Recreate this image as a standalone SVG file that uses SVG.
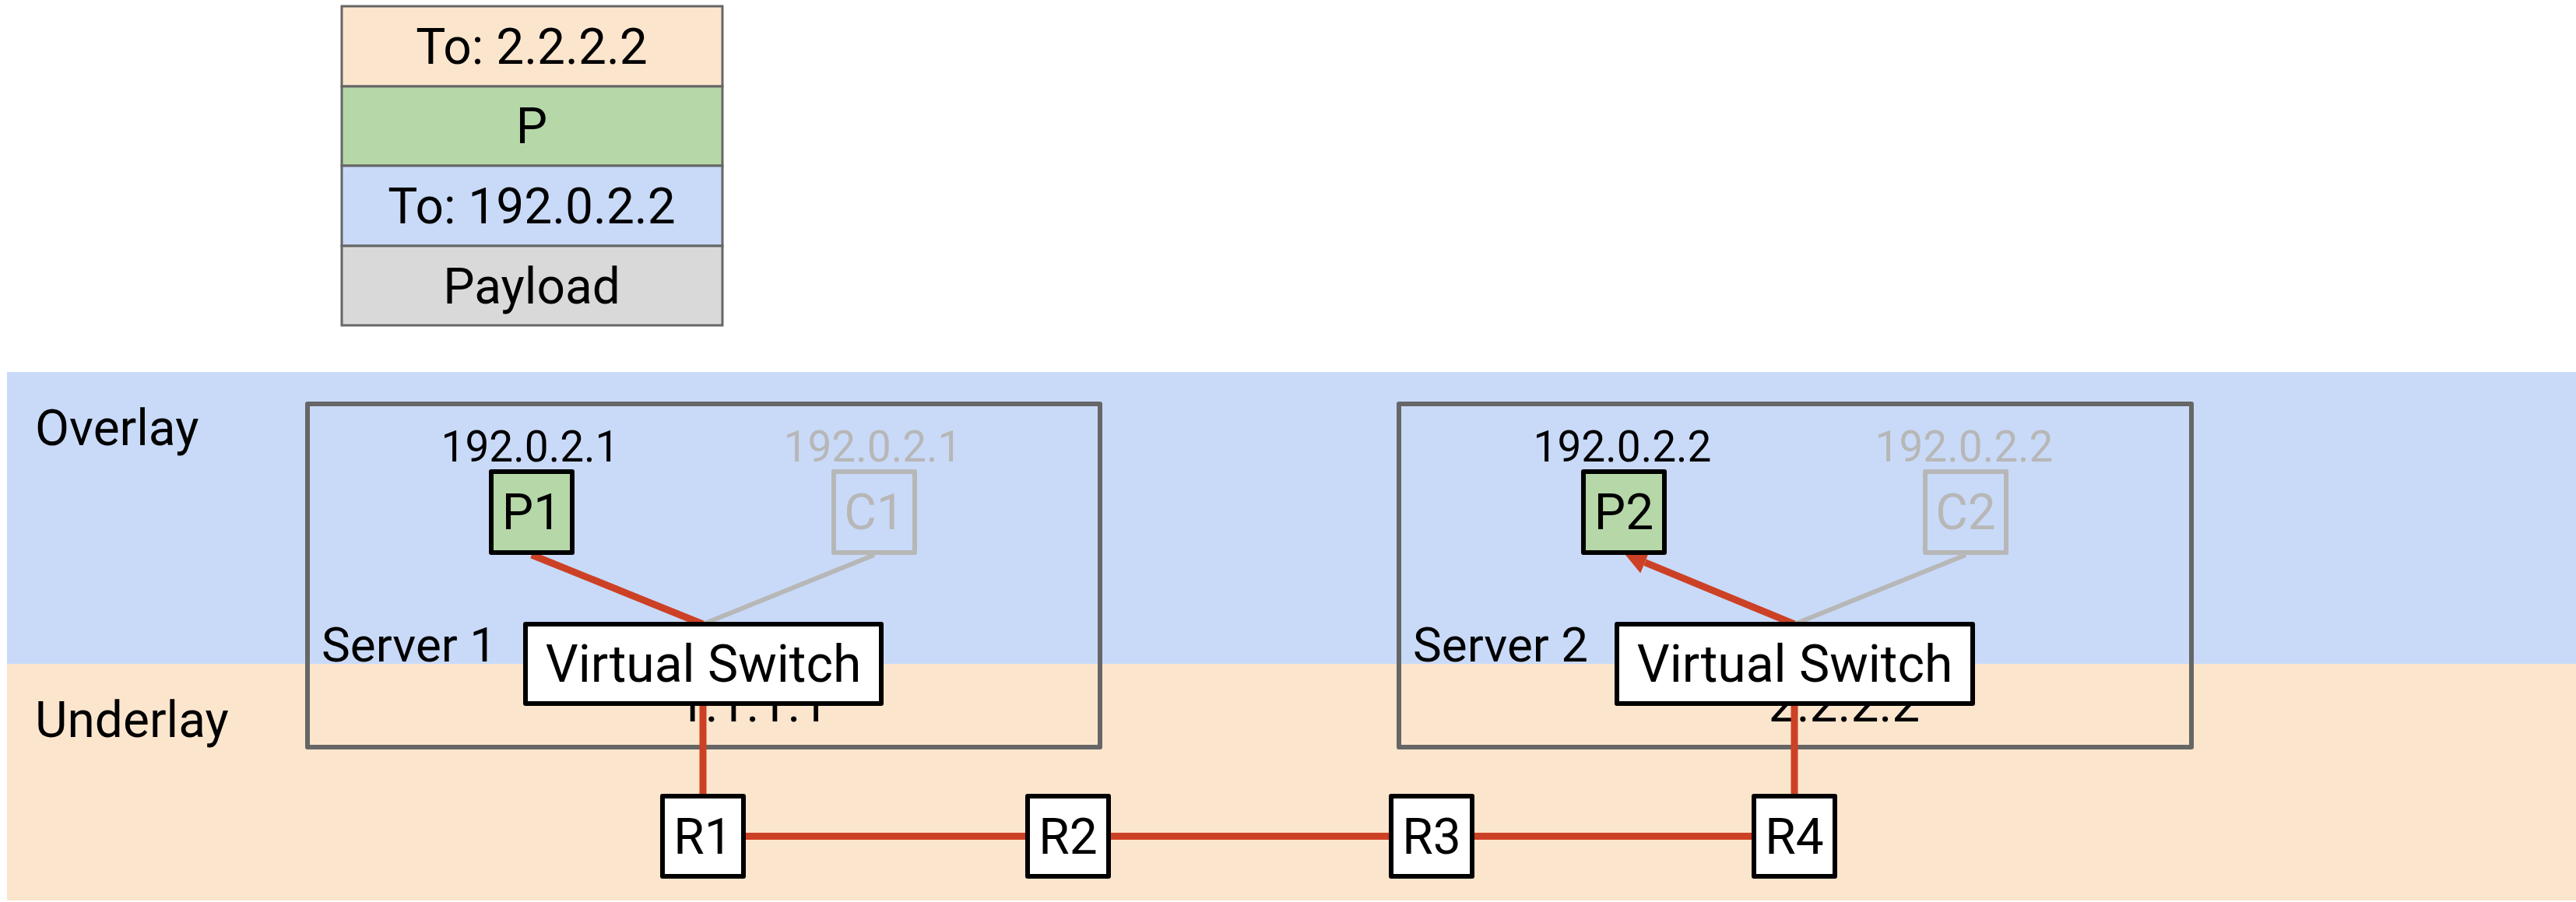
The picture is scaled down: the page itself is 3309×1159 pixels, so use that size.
<svg xmlns="http://www.w3.org/2000/svg" width="3309" height="1159" viewBox="0 0 3309 1159">
<style>
text{font-family:Roboto,"Liberation Sans",sans-serif;fill:#000}
.t64{font-size:64px}
.t66{font-size:66px}
.t62{font-size:62px}
.ip{font-size:55px;text-anchor:middle}
.mid{text-anchor:middle}
.gray{fill:#b7b7b7}
.pkt{stroke:#666;stroke-width:3}
.srv{fill:none;stroke:#666;stroke-width:6;stroke-linejoin:round}
.box{stroke:#000;stroke-width:6;stroke-linejoin:round}
.gbox{fill:none;stroke:#b7b7b7;stroke-width:6;stroke-linejoin:round}
.red{stroke:#cc4125;stroke-width:9;fill:none}
.grl{stroke:#b7b7b7;stroke-width:6;fill:none}
</style>
<defs>
<marker id="arr" markerUnits="userSpaceOnUse" markerWidth="30" markerHeight="30" refX="0" refY="15" orient="auto">
<path d="M0,0 L28,15 L0,30 z" fill="#cc4125"/>
</marker>
</defs>
<rect width="3309" height="1159" fill="#fff"/>
<g id="bands">
<rect x="9" y="478" width="3300" height="375" fill="#c9daf8"/>
<rect x="9" y="853" width="3300" height="304" fill="#fce5cd"/>
<text class="t64" x="45" y="572">Overlay</text>
<text class="t64" x="45" y="947">Underlay</text>
</g>
<g id="packet">
<rect class="pkt" x="439" y="8" width="489" height="103" fill="#fce5cd"/>
<rect class="pkt" x="439" y="111" width="489" height="102" fill="#b6d7a8"/>
<rect class="pkt" x="439" y="213" width="489" height="103" fill="#c9daf8"/>
<rect class="pkt" x="439" y="316" width="489" height="102" fill="#d9d9d9"/>
<text class="t64 mid" x="683" y="82">To: 2.2.2.2</text>
<text class="t64 mid" x="683" y="184">P</text>
<text class="t64 mid" x="683" y="287">To: 192.0.2.2</text>
<text class="t64 mid" x="683" y="390">Payload</text>
</g>
<g id="server1">
<rect class="srv" x="395" y="519" width="1018" height="441"/>
<text class="t62" x="413" y="850">Server 1</text>
<text class="t64 mid" x="967" y="927">1.1.1.1</text>
</g>
<g id="server2">
<rect class="srv" x="1797" y="519" width="1018" height="441"/>
<text class="t62" x="1815" y="850">Server 2</text>
<text class="t64 mid" x="2369" y="927">2.2.2.2</text>
</g>
<g id="connectors">
<line class="red" x1="683" y1="713" x2="903" y2="802"/>
<line class="grl" x1="1123" y1="713" x2="903" y2="802"/>
<line class="red" x1="903" y1="904" x2="903" y2="1023"/>
<line class="red" x1="955" y1="1074.5" x2="1320" y2="1074.5"/>
<line class="red" x1="1424" y1="1074.5" x2="1787" y2="1074.5"/>
<line class="red" x1="1891" y1="1074.5" x2="2253" y2="1074.5"/>
<line class="red" x1="2305" y1="1023" x2="2305" y2="904"/>
<line class="red" x1="2305" y1="802" x2="2113" y2="722.7" marker-end="url(#arr)"/>
<line class="grl" x1="2525" y1="713" x2="2305" y2="802"/>
</g>
<g id="P1">
<text class="ip" x="681" y="593">192.0.2.1</text>
<rect class="box" x="631" y="606" width="104" height="104" fill="#b6d7a8"/>
<text class="t64 mid" x="683" y="680">P1</text>
</g>
<g id="C1">
<text class="ip gray" x="1121" y="593">192.0.2.1</text>
<rect class="gbox" x="1071" y="606" width="104" height="104"/>
<text class="t64 mid gray" x="1123" y="680">C1</text>
</g>
<g id="VS1">
<rect class="box" x="675" y="802" width="457" height="102" fill="#fff"/>
<text class="t66 mid" x="903.5" y="876">Virtual Switch</text>
</g>
<g id="P2">
<text class="ip" x="2084" y="593">192.0.2.2</text>
<rect class="box" x="2034" y="606" width="104" height="104" fill="#b6d7a8"/>
<text class="t64 mid" x="2086" y="680">P2</text>
</g>
<g id="C2">
<text class="ip gray" x="2523" y="593">192.0.2.2</text>
<rect class="gbox" x="2473" y="606" width="104" height="104"/>
<text class="t64 mid gray" x="2525" y="680">C2</text>
</g>
<g id="VS2">
<rect class="box" x="2077" y="802" width="457" height="102" fill="#fff"/>
<text class="t66 mid" x="2305.5" y="876">Virtual Switch</text>
</g>
<g id="R1">
<rect class="box" x="851" y="1023" width="104" height="103" fill="#fff"/>
<text class="t64 mid" x="903" y="1097">R1</text>
</g>
<g id="R2">
<rect class="box" x="1320" y="1023" width="104" height="103" fill="#fff"/>
<text class="t64 mid" x="1372" y="1097">R2</text>
</g>
<g id="R3">
<rect class="box" x="1787" y="1023" width="104" height="103" fill="#fff"/>
<text class="t64 mid" x="1839" y="1097">R3</text>
</g>
<g id="R4">
<rect class="box" x="2253" y="1023" width="104" height="103" fill="#fff"/>
<text class="t64 mid" x="2305" y="1097">R4</text>
</g>
</svg>
